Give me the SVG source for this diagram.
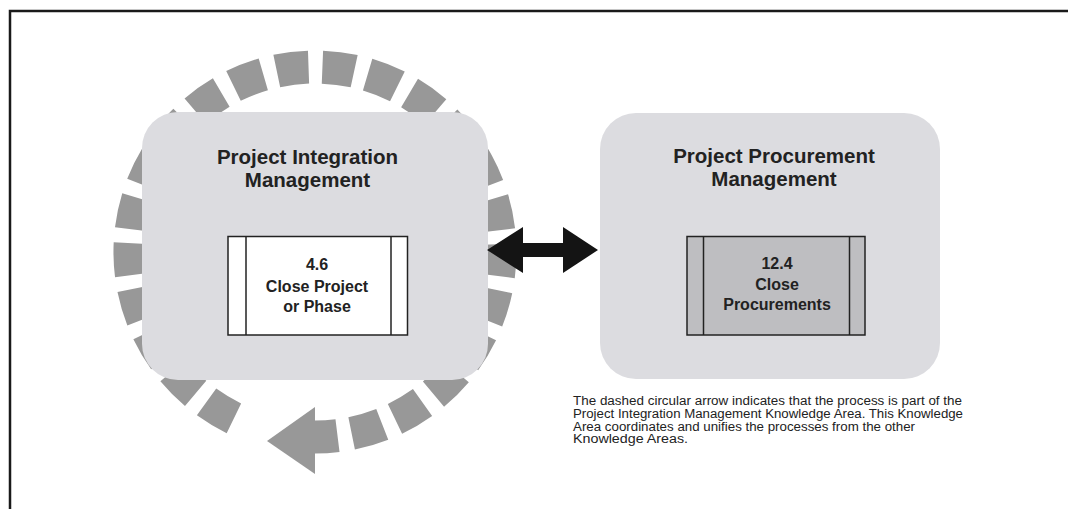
<svg xmlns="http://www.w3.org/2000/svg" width="1068" height="509" viewBox="0 0 1068 509">
<style>
.title{font-family:"Liberation Sans",Arial,sans-serif;font-weight:bold;font-size:20.5px;fill:#222;text-anchor:middle}
.proc{font-family:"Liberation Sans",Arial,sans-serif;font-weight:bold;font-size:16px;fill:#222;text-anchor:middle}
.note{font-family:"Liberation Sans",Arial,sans-serif;font-size:12.5px;fill:#222}
.area{fill:#dcdce0}
.ring{fill:none;stroke:#989898;stroke-width:33}
</style>
<rect width="1068" height="509" fill="#fff"/>
<path d="M10 509 V11 H1068" fill="none" stroke="#1a1a1a" stroke-width="2.5"/>
<g id="cycle">
<path class="ring" d="M233.9 418.3 A185 185 0 1 1 350.3 433.6" stroke-dasharray="32 13.86"/>
<path class="ring" d="M337.5 435.6 A185 185 0 0 1 315 437" stroke-width="31"/>
<polygon points="267,441 315,407 315,474" fill="#989898"/>
</g>
<g id="pim">
<rect class="area" x="142" y="112" width="346" height="268" rx="36"/>
<text class="title" x="307.5" y="164">Project Integration</text>
<text class="title" x="307.5" y="186.5">Management</text>
</g>
<g id="p46">
<rect x="228" y="236.5" width="179.5" height="98.5" fill="#fff" stroke="#222" stroke-width="1.5"/>
<line x1="246" y1="236.5" x2="246" y2="335" stroke="#222" stroke-width="1.5"/>
<line x1="391" y1="236.5" x2="391" y2="335" stroke="#222" stroke-width="1.5"/>
<text class="proc" x="317" y="270">4.6</text>
<text class="proc" x="317" y="291.5">Close Project</text>
<text class="proc" x="317" y="311.5">or Phase</text>
</g>
<g id="ppm">
<rect class="area" x="600" y="113" width="340" height="266" rx="36"/>
<text class="title" x="774" y="162.5">Project Procurement</text>
<text class="title" x="774" y="186">Management</text>
</g>
<g id="p124">
<rect x="687" y="236.5" width="178" height="98.5" fill="#bebec1" stroke="#222" stroke-width="1.5"/>
<line x1="703.5" y1="236.5" x2="703.5" y2="335" stroke="#222" stroke-width="1.5"/>
<line x1="849.5" y1="236.5" x2="849.5" y2="335" stroke="#222" stroke-width="1.5"/>
<text class="proc" x="777" y="268.5">12.4</text>
<text class="proc" x="777" y="290">Close</text>
<text class="proc" x="777" y="310">Procurements</text>
</g>
<g id="connectors">
<polygon points="487,250 523,227 523,243 563,243 563,227 598,250 563,273 563,257 523,257 523,273" fill="#141414"/>
</g>
<g id="note">
<text class="note" x="573" y="405" textLength="389" lengthAdjust="spacingAndGlyphs">The dashed circular arrow indicates that the process is part of the</text>
<text class="note" x="573" y="418" textLength="390" lengthAdjust="spacingAndGlyphs">Project Integration Management Knowledge Area. This Knowledge</text>
<text class="note" x="573" y="430.7" textLength="342" lengthAdjust="spacingAndGlyphs">Area coordinates and unifies the processes from the other</text>
<text class="note" x="573" y="443.3" textLength="115" lengthAdjust="spacingAndGlyphs">Knowledge Areas.</text>
</g>
</svg>
